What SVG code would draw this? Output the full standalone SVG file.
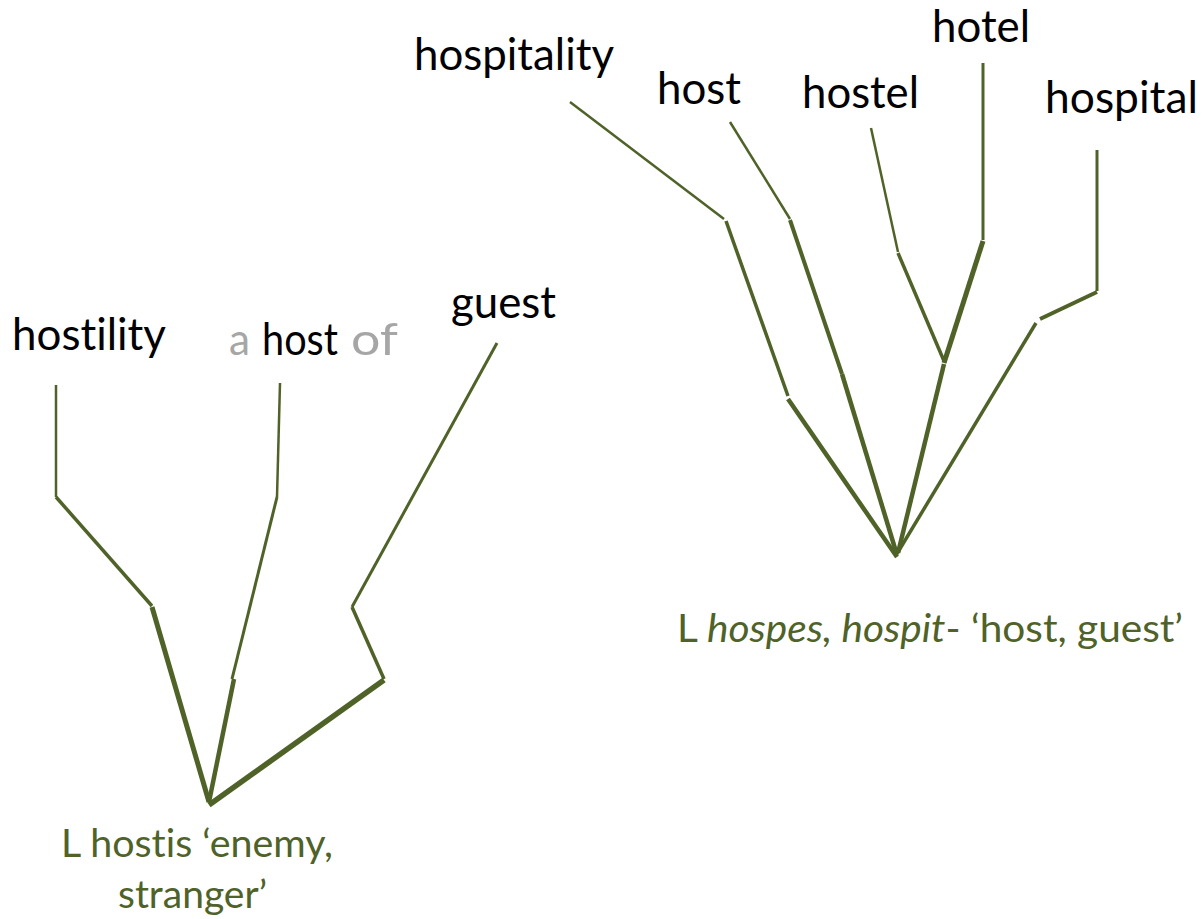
<svg xmlns="http://www.w3.org/2000/svg" width="1203" height="919" viewBox="0 0 1203 919">
  <style>
    text { font-variant-ligatures: none; font-feature-settings: "liga" 0, "clig" 0; }
    .word { font-family: Lato, "Liberation Sans", sans-serif; font-size: 45px; fill: #000000; }
    .faint { fill: #A6A6A6; }
    .root { font-family: Lato, "Liberation Sans", sans-serif; font-size: 38px; fill: #4F6228; }
    .branch line { stroke: #4F6228; stroke-linecap: butt; fill: none; }
    .w2 { stroke-width: 2.5; }
    .w25 { stroke-width: 3; }
    .w3 { stroke-width: 3.5; }
    .w35 { stroke-width: 4; }
    .w4 { stroke-width: 4.5; }
    .w45 { stroke-width: 5; }
    .w5 { stroke-width: 5.5; }
  </style>
  <rect width="1203" height="919" fill="#FFFFFF"/>

  <!-- branches of both family trees -->
  <g id="connectors" class="branch">
    <!-- hostis tree -->
    <line class="w2" x1="56" y1="385" x2="56" y2="497"/>
    <line class="w3" x1="56" y1="497" x2="152" y2="606"/>
    <line class="w45" x1="152" y1="607" x2="209" y2="802"/>
    <line class="w2" x1="280" y1="383" x2="277" y2="497"/>
    <line class="w25" x1="277" y1="497" x2="232" y2="679"/>
    <line class="w4" x1="234" y1="679" x2="209" y2="802"/>
    <line class="w25" x1="497" y1="343" x2="352" y2="607"/>
    <line class="w3" x1="352" y1="607" x2="384" y2="679"/>
    <line class="w5" x1="384" y1="680" x2="209" y2="805"/>
    <!-- hospes tree -->
    <line class="w2" x1="570" y1="102" x2="724" y2="219"/>
    <line class="w3" x1="726" y1="221" x2="788" y2="396"/>
    <line class="w4" x1="788" y1="399" x2="897" y2="557"/>
    <line class="w2" x1="730" y1="122" x2="790" y2="219"/>
    <line class="w35" x1="790" y1="220" x2="842" y2="374"/>
    <line class="w4" x1="842" y1="374" x2="897" y2="555"/>
    <line class="w2" x1="871" y1="128" x2="898" y2="252"/>
    <line class="w3" x1="898" y1="253" x2="944" y2="361"/>
    <line class="w25" x1="983" y1="63" x2="983" y2="240"/>
    <line class="w45" x1="983" y1="241" x2="944" y2="363"/>
    <line class="w4" x1="944" y1="364" x2="898" y2="553"/>
    <line class="w25" x1="1097" y1="150" x2="1097" y2="291"/>
    <line class="w35" x1="1097" y1="292" x2="1040" y2="319"/>
    <line class="w3" x1="1036" y1="323" x2="898" y2="552"/>
  </g>

  <!-- hostis tree words -->
  <g id="hostility">
    <text class="word" x="12" y="350" textLength="154" lengthAdjust="spacingAndGlyphs">hostility</text>
  </g>
  <g id="a-host-of">
    <text class="word faint" x="229" y="355" textLength="21" lengthAdjust="spacingAndGlyphs">a</text>
    <text class="word" x="262" y="355" textLength="76" lengthAdjust="spacingAndGlyphs">host</text>
    <text class="word faint" x="351" y="355" textLength="47" lengthAdjust="spacingAndGlyphs">of</text>
  </g>
  <g id="guest">
    <text class="word" x="451" y="318" textLength="105" lengthAdjust="spacingAndGlyphs">guest</text>
  </g>
  <g id="hostis">
    <text class="root" x="61" y="857" textLength="272" lengthAdjust="spacingAndGlyphs">L hostis ‘enemy,</text>
    <text class="root" x="118" y="908" textLength="149" lengthAdjust="spacingAndGlyphs">stranger’</text>
  </g>

  <!-- hospes tree words -->
  <g id="hospitality">
    <text class="word" x="414" y="70" textLength="200" lengthAdjust="spacingAndGlyphs">hospitality</text>
  </g>
  <g id="host">
    <text class="word" x="657" y="104" textLength="84" lengthAdjust="spacingAndGlyphs">host</text>
  </g>
  <g id="hostel">
    <text class="word" x="802" y="108" textLength="117" lengthAdjust="spacingAndGlyphs">hostel</text>
  </g>
  <g id="hotel">
    <text class="word" x="932" y="42" textLength="98" lengthAdjust="spacingAndGlyphs">hotel</text>
  </g>
  <g id="hospital">
    <text class="word" x="1045" y="113" textLength="153" lengthAdjust="spacingAndGlyphs">hospital</text>
  </g>
  <g id="hospes">
    <text class="root" x="677" y="642" textLength="506" lengthAdjust="spacingAndGlyphs">L <tspan font-style="italic">hospes, hospit</tspan>- ‘host, guest’</text>
  </g>
</svg>
